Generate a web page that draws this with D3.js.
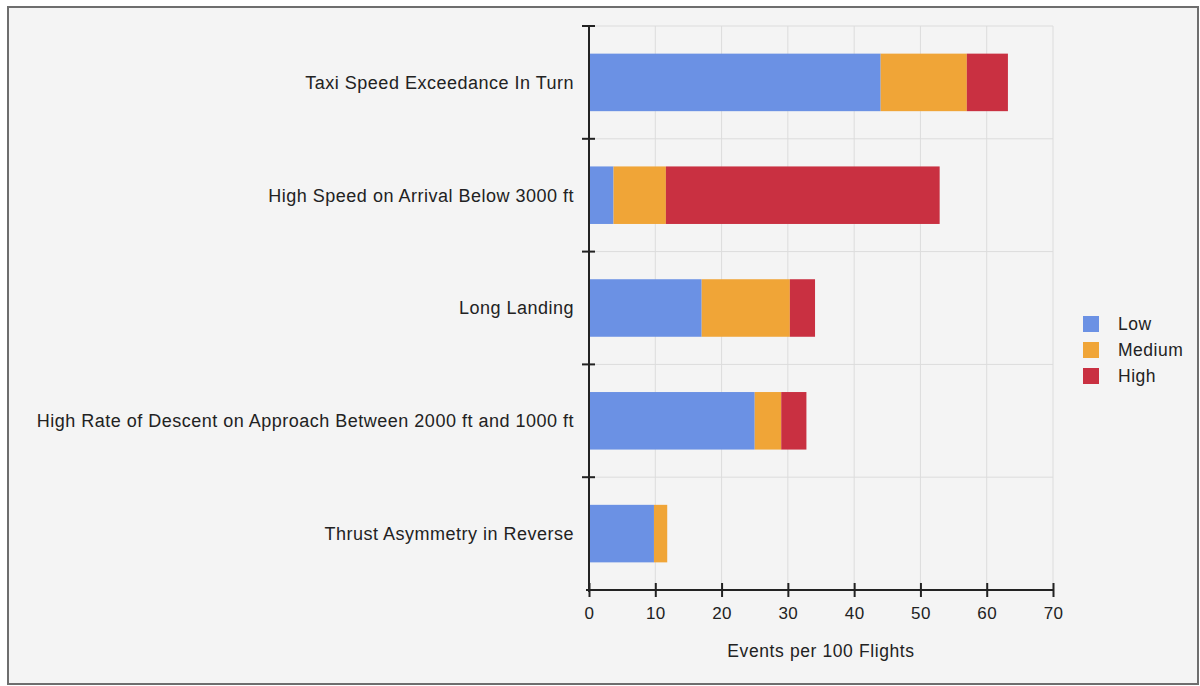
<!DOCTYPE html>
<html><head><meta charset="utf-8">
<script src="https://cdn.jsdelivr.net/npm/d3@7"></script>
<style>html,body{margin:0;padding:0;background:#fff;}svg{display:block;}</style>
</head><body>
<svg id="chart" width="1200" height="686"></svg>
<script>
const categories = [
  "Taxi Speed Exceedance In Turn",
  "High Speed on Arrival Below 3000 ft",
  "Long Landing",
  "High Rate of Descent on Approach Between 2000 ft and 1000 ft",
  "Thrust Asymmetry in Reverse"
];
const seriesNames = ["Low", "Medium", "High"];
const lowValues = [44, 3.7, 17, 25, 9.8];
const mediumValues = [13, 7.9, 13.3, 4, 2];
const highValues = [6.2, 41.3, 3.8, 3.8, 0];
const xTicks = [0, 10, 20, 30, 40, 50, 60, 70];
const colors = ["#6b91e4", "#f0a537", "#c93041"];

const FONT = "Liberation Sans, Arial, Helvetica, sans-serif";
const svg = d3.select("#chart");
const W = 1200, H = 686;
svg.append("rect").attr("x",0).attr("y",0).attr("width",W).attr("height",H).attr("fill","#ffffff");
svg.append("rect").attr("x",8).attr("y",7).attr("width",1190).attr("height",677)
  .attr("fill","#f4f4f4").attr("stroke","#6e6e6e").attr("stroke-width",2);

const m = {left:589, right:1053, top:26, bottom:590};
const x = d3.scaleLinear().domain([0,70]).range([m.left, m.right]);
const y = d3.scaleBand().domain(categories).range([m.top, m.bottom]).paddingInner(0.49).paddingOuter(0.245);

const rows = categories.map((c,i)=>({cat:c, Low:lowValues[i], Medium:mediumValues[i], High:highValues[i]}));
const stacked = d3.stack().keys(seriesNames)(rows);

// grid
const g = svg.append("g");
g.selectAll(".vg").data(xTicks.slice(1)).join("line")
  .attr("x1",d=>x(d)).attr("x2",d=>x(d)).attr("y1",m.top).attr("y2",m.bottom)
  .attr("stroke","#dcdcdc").attr("stroke-width",1);
const step = y.step();
const bounds = d3.range(categories.length+1).map(i=>m.top + i*step);
g.selectAll(".hg").data(bounds.slice(0,-1)).join("line")
  .attr("x1",m.left).attr("x2",m.right).attr("y1",d=>d).attr("y2",d=>d)
  .attr("stroke","#dcdcdc").attr("stroke-width",1);

// bars
svg.append("g").selectAll("g").data(stacked).join("g")
  .attr("fill",(d,i)=>colors[i])
  .selectAll("rect").data(d=>d.map(v=>({v, cat:v.data.cat}))).join("rect")
  .attr("x",d=>x(d.v[0])).attr("width",d=>Math.max(0,x(d.v[1])-x(d.v[0])))
  .attr("y",d=>y(d.cat)).attr("height",y.bandwidth());

// x axis
const xAxis = d3.axisBottom(x).tickValues(xTicks).tickSizeInner(7).tickSizeOuter(0).tickPadding(10);
const xg = svg.append("g").attr("transform",`translate(0,${m.bottom})`).call(xAxis);
xg.select(".domain").attr("stroke","#222").attr("stroke-width",2).attr("d",`M${m.left-3},0H${m.right}`);
xg.selectAll(".tick line").attr("stroke","#222").attr("stroke-width",2).attr("y1",-7);
xg.selectAll(".tick text").attr("fill","#222").style("font-family",FONT).style("font-size","17px").style("letter-spacing","0.4px");

// y axis
const ya = svg.append("g");
ya.append("line").attr("x1",m.left).attr("x2",m.left).attr("y1",m.top).attr("y2",m.bottom+2)
  .attr("stroke","#222").attr("stroke-width",2);
ya.selectAll(".yt").data(bounds.slice(0,-1)).join("line")
  .attr("x1",m.left-7).attr("x2",m.left+6).attr("y1",d=>d).attr("y2",d=>d)
  .attr("stroke","#222").attr("stroke-width",2);
ya.selectAll(".yl").data(categories).join("text")
  .attr("x",574).attr("y",d=>y(d)+y.bandwidth()/2).attr("dy","0.35em")
  .attr("text-anchor","end").attr("fill","#222")
  .style("font-family",FONT).style("font-size","18px").style("letter-spacing","0.5px")
  .text(d=>d);

// axis title
svg.append("text").attr("x",(m.left+m.right)/2).attr("y",657).attr("text-anchor","middle")
  .attr("fill","#222").style("font-family",FONT).style("font-size","17.5px").style("letter-spacing","0.6px")
  .text("Events per 100 Flights");

// legend
const lg = svg.append("g").attr("transform","translate(1083,316)");
const li = lg.selectAll("g").data(seriesNames).join("g").attr("transform",(d,i)=>`translate(0,${i*26})`);
li.append("rect").attr("width",16).attr("height",16).attr("fill",(d,i)=>colors[i]);
li.append("text").attr("x",35).attr("y",8).attr("dy","0.35em").attr("fill","#222")
  .style("font-family",FONT).style("font-size","17.5px").style("letter-spacing","0.5px").text(d=>d);
</script>
</body></html>
